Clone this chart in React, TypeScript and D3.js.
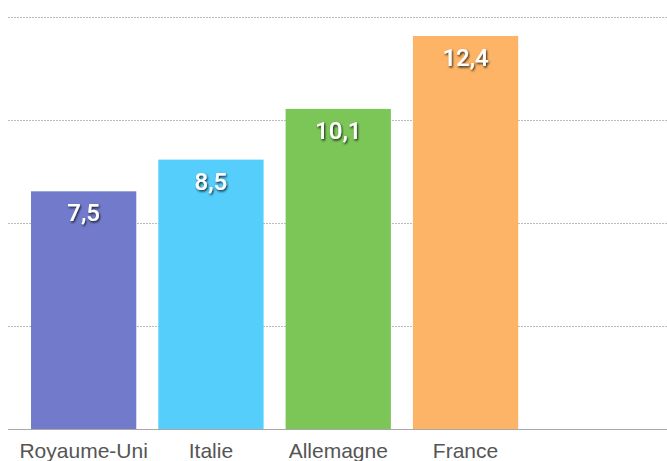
import React from "react";
import * as d3 from "d3";

const categories = ["Royaume-Uni", "Italie", "Allemagne", "France"];
const values = [7.5, 8.5, 10.1, 12.4];
const valueLabels = ["7,5", "8,5", "10,1", "12,4"];
const colors = ["#727BCB", "#55CEFB", "#7CC657", "#FDB466"];
const gridTicks = [3.25, 6.5, 9.75, 13];

const W = 667;
const H = 461;

export default function App() {
  const baseY = 429;
  const y = d3.scaleLinear().domain([0, 13]).range([baseY, 17]);
  const x = d3
    .scaleBand<string>()
    .domain(categories)
    .range([20, 20 + 4 * 127.3])
    .paddingInner(0.173)
    .paddingOuter(0.0865);

  return (
    <svg
      width={W}
      height={H}
      style={{ position: "absolute", left: 0, top: 0, display: "block" }}
      fontFamily="'Liberation Sans', Arial, Helvetica, sans-serif"
    >
      <defs>
        <filter id="ts" x="-20%" y="-20%" width="140%" height="160%">
          <feDropShadow dx="1" dy="1.5" stdDeviation="1" floodColor="#000" floodOpacity="0.8" />
        </filter>
      </defs>
      <rect width={W} height={H} fill="#fff" />
      {gridTicks.map((t) => (
        <line
          key={t}
          x1={8}
          x2={W}
          y1={Math.round(y(t)) + 0.5}
          y2={Math.round(y(t)) + 0.5}
          stroke="#bcbcbc"
          strokeWidth={1}
          strokeDasharray="2,1"
        />
      ))}
      {categories.map((c, i) => (
        <rect
          key={c}
          x={x(c)}
          y={y(values[i])}
          width={x.bandwidth()}
          height={baseY - y(values[i])}
          fill={colors[i]}
        />
      ))}
      <line x1={8} x2={W} y1={baseY + 0.5} y2={baseY + 0.5} stroke="#a8a8a8" strokeWidth={1} />
      {categories.map((c, i) => (
        <text
          key={"v" + c}
          x={(x(c) as number) + x.bandwidth() / 2}
          y={y(values[i]) + 30}
          textAnchor="middle"
          fontSize={24}
          fontWeight={500}
          fontFamily="Roboto, 'Liberation Sans', sans-serif"
          fill="#fff"
          filter="url(#ts)"
        >
          {valueLabels[i]}
        </text>
      ))}
      {categories.map((c) => (
        <text
          key={"l" + c}
          x={(x(c) as number) + x.bandwidth() / 2}
          y={458}
          textAnchor="middle"
          fontSize={21}
          fill="#555"
        >
          {c}
        </text>
      ))}
    </svg>
  );
}
